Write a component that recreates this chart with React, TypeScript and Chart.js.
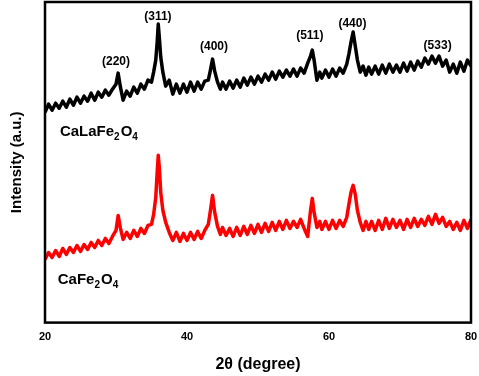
import React, { useEffect, useRef } from "react";
import { Chart, registerables } from "chart.js";

Chart.register(...registerables);

// 2θ positions (degree)
const angles: number[] = [
  20, 20.5, 21, 21.5, 22, 22.5, 23, 23.5, 24, 24.5, 25, 25.5, 26, 26.5, 27, 27.5, 28, 28.5, 29, 29.5, 30,
  30.3, 30.6,
  31, 31.5, 32, 32.5, 33, 33.5, 34, 34.5, 35,
  35.3, 35.6, 35.8, 35.95, 36.1, 36.3, 36.6,
  37, 37.5, 38, 38.5, 39, 39.5, 40, 40.5, 41, 41.5, 42, 42.5, 43,
  43.3, 43.6, 43.9, 44.3, 44.7,
  45, 45.5, 46, 46.5, 47, 47.5, 48, 48.5, 49, 49.5, 50, 50.5, 51, 51.5, 52, 52.5, 53, 53.5, 54, 54.5, 55, 55.5, 56, 56.5, 57,
  57.4, 57.65, 57.9, 58.3, 58.7,
  59, 59.5, 60, 60.5, 61, 61.5, 62, 62.5,
  62.8, 63.1, 63.4, 63.7, 64, 64.4, 64.8, 65.2, 65.6,
  66, 66.5, 67, 67.5, 68, 68.5, 69, 69.5, 70, 70.5, 71, 71.5, 72, 72.5, 73, 73.5, 74, 74.5, 75, 75.5, 76, 76.5, 77, 77.5, 78, 78.5, 79, 79.5, 80,
];

// CaLaFe2O4 intensity (a.u., offset pattern)
const caLaFe2O4: number[] = [
  210, 218, 212, 219, 214, 221, 215, 223, 217, 225, 219, 226, 221, 229, 222, 230, 225, 232, 227, 233, 238,
  249, 236,
  222, 231, 226, 235, 229, 238, 233, 242, 240,
  250, 262, 280, 298, 285, 265, 250,
  236, 242, 228, 238, 229, 238, 230, 240, 231, 240, 233, 241, 242,
  252, 263, 251, 240, 233,
  240, 233, 241, 234, 242, 235, 244, 237, 245, 238, 246, 240, 248, 242, 250, 243, 251, 245, 252, 246, 253, 246, 254, 249, 259,
  266, 272, 262, 242, 250,
  244, 252, 245, 253, 246, 254, 249, 258,
  268, 280, 290, 276, 262, 250, 256, 247, 255,
  248, 256, 248, 257, 249, 258, 250, 257, 250, 259, 251, 260, 252, 261, 255, 264, 258, 266, 259, 266, 256, 262, 250, 258, 249, 260, 251, 262, 256,
];

// CaFe2O4 intensity (a.u.)
const caFe2O4: number[] = [
  63, 70, 65, 72, 66, 74, 68, 75, 70, 77, 71, 78, 73, 80, 75, 82, 77, 84, 79, 86, 92,
  107, 95,
  83, 90, 84, 92, 86, 94, 89, 97, 98,
  108, 125, 150, 167, 155, 130, 112,
  100, 90, 82, 90, 81, 89, 82, 90, 83, 91, 84, 92, 98,
  112, 127, 110, 96, 88,
  95, 87, 94, 86, 95, 87, 96, 88, 97, 89, 98, 90, 99, 91, 100, 92, 101, 93, 102, 94, 101, 95, 103, 94, 86,
  112, 124, 110, 95, 101,
  93, 101, 93, 102, 94, 102, 96, 105,
  118, 130, 137, 128, 112, 100, 92, 101, 93,
  101, 92, 102, 93, 104, 94, 103, 95, 102, 93, 103, 95, 104, 96, 103, 97, 106, 98, 108, 99, 105, 96, 101, 93, 100, 92, 102, 94, 103,
];

const xTicks: number[] = [20, 40, 60, 80];

// Miller-index annotations
const peakLabels: string[] = ["(220)", "(311)", "(400)", "(511)", "(440)", "(533)"];
const peakAngles: number[] = [30.0, 35.9, 43.8, 57.3, 63.3, 75.3];
const peakLevels: number[] = [260, 305, 275, 286, 298, 276];

// Sample names: [main, sub, main, sub]
const sampleParts: string[][] = [
  ["CaLaFe", "2", "O", "4"],
  ["CaFe", "2", "O", "4"],
];
const sampleAngles: number[] = [22.1, 21.8];
const sampleLevels: number[] = [186, 39];

const FONT = "'Liberation Sans', Arial, sans-serif";

export default function App() {
  const ref = useRef<HTMLCanvasElement | null>(null);

  useEffect(() => {
    if (!ref.current) return;
    const annotate = {
      id: "annotate",
      afterDatasetsDraw(chart: any) {
        const { ctx, chartArea, scales } = chart;
        const xs = scales.x;
        const ys = scales.y;
        ctx.save();
        ctx.fillStyle = "#000";
        ctx.textAlign = "center";
        ctx.textBaseline = "middle";
        ctx.font = `bold 12px ${FONT}`;
        peakLabels.forEach((t, i) => {
          ctx.fillText(t, xs.getPixelForValue(peakAngles[i]), ys.getPixelForValue(peakLevels[i]));
        });
        ctx.textAlign = "left";
        ctx.textBaseline = "alphabetic";
        sampleParts.forEach((parts, i) => {
          let x = xs.getPixelForValue(sampleAngles[i]);
          const y = ys.getPixelForValue(sampleLevels[i]);
          parts.forEach((p, j) => {
            const sub = j % 2 === 1;
            ctx.font = sub ? `bold 10px ${FONT}` : `bold 15px ${FONT}`;
            ctx.fillText(p, x, sub ? y + 4 : y);
            x += ctx.measureText(p).width + (sub ? 1 : 0);
          });
        });
        ctx.strokeStyle = "#000";
        ctx.lineWidth = 2.5;
        ctx.strokeRect(chartArea.left, chartArea.top, chartArea.right - chartArea.left, chartArea.bottom - chartArea.top);
        ctx.restore();
      },
    };

    const chart = new Chart(ref.current, {
      type: "line",
      data: {
        datasets: [
          {
            label: "CaLaFe2O4",
            data: angles.map((a, i) => ({ x: a, y: caLaFe2O4[i] })),
            borderColor: "#000000",
            borderWidth: 3.5,
            borderJoinStyle: "round",
            pointRadius: 0,
            tension: 0,
          },
          {
            label: "CaFe2O4",
            data: angles.map((a, i) => ({ x: a, y: caFe2O4[i] })),
            borderColor: "#ff0000",
            borderWidth: 3.5,
            borderJoinStyle: "round",
            pointRadius: 0,
            tension: 0,
          },
        ],
      },
      options: {
        animation: false,
        responsive: true,
        maintainAspectRatio: false,
        layout: { padding: { left: 0, top: 2, right: 8, bottom: 0 } },
        plugins: { legend: { display: false }, tooltip: { enabled: false } },
        scales: {
          x: {
            type: "linear",
            min: 20,
            max: 80,
            afterBuildTicks: (s: any) => {
              s.ticks = xTicks.map((v) => ({ value: v }));
            },
            afterFit: (s: any) => {
              s.paddingRight = 8;
              s.paddingLeft = 0;
            },
            grid: { display: false, drawTicks: false },
            border: { display: false },
            ticks: {
              padding: 8,
              color: "#000",
              font: { family: FONT, size: 11, weight: "bold" },
              maxRotation: 0,
            },
            title: {
              display: true,
              text: "2θ (degree)",
              color: "#000",
              font: { family: FONT, size: 16, weight: "bold" },
              padding: { top: 3, bottom: 2 },
            },
          },
          y: {
            min: 0,
            max: 320,
            grid: { display: false, drawTicks: false },
            border: { display: false },
            ticks: { display: false },
            title: {
              display: true,
              text: "Intensity (a.u.)",
              color: "#000",
              font: { family: FONT, size: 15, weight: "bold" },
              padding: { top: 8, bottom: 19 },
            },
          },
        },
      },
      plugins: [annotate],
    });
    return () => chart.destroy();
  }, []);

  return (
    <div style={{ position: "fixed", left: 0, top: 0, width: 479, height: 376, background: "#fff" }}>
      <canvas ref={ref} />
    </div>
  );
}
